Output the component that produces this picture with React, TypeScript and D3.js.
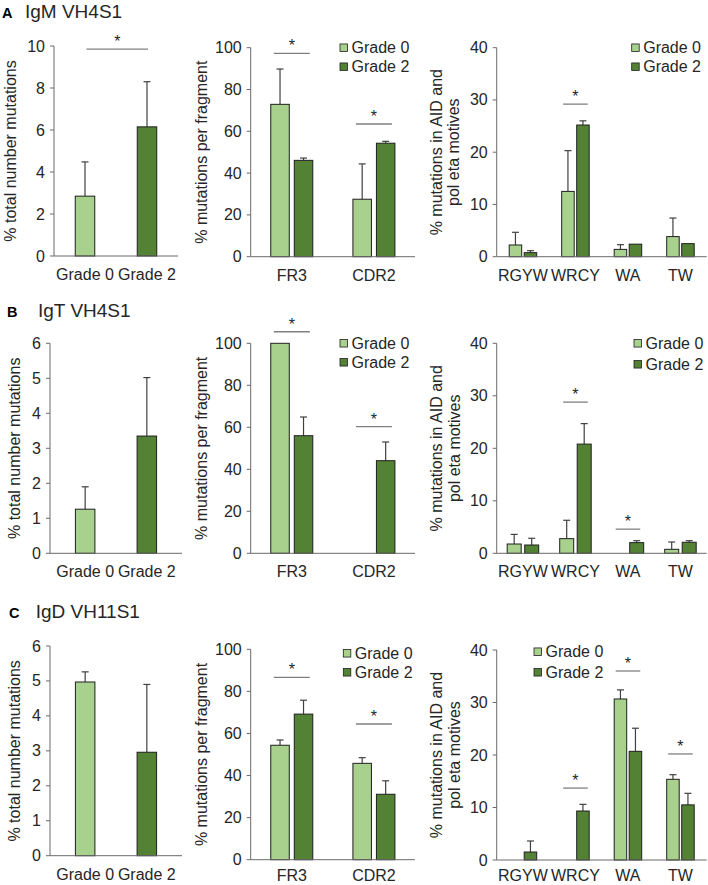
import React from "react";
import * as d3 from "d3";

// ---------- categories & ticks ----------
const GRADES = ["Grade 0", "Grade 2"];
const TOTAL_CATS = ["Grade 0", "Grade 2"];
const FRAG_CATS = ["FR3", "CDR2"];
const MOTIF_CATS = ["RGYW", "WRCY", "WA", "TW"];

const TOTAL_TICKS_A = [0, 2, 4, 6, 8, 10];
const TOTAL_TICKS_BC = [0, 1, 2, 3, 4, 5, 6];
const FRAG_TICKS = [0, 20, 40, 60, 80, 100];
const MOTIF_TICKS = [0, 10, 20, 30, 40];

// ---------- A: IgM VH4S1 ----------
const IGM_TOTAL = [2.85, 6.15];
const IGM_TOTAL_SD = [1.63, 2.15];
const IGM_TOTAL_SIG = [{ from: "Grade 0", to: "Grade 2", level: 9.85 }];
const IGM_FRAG_G0 = [72.9, 27.5];
const IGM_FRAG_G0_SD = [16.9, 16.9];
const IGM_FRAG_G2 = [46.1, 54.3];
const IGM_FRAG_G2_SD = [1.1, 0.9];
const IGM_FRAG_SIG = [{ cat: "FR3", level: 97.3 }, { cat: "CDR2", level: 63.5 }];
const IGM_MOTIF_G0 = [2.24, 12.5, 1.4, 3.85];
const IGM_MOTIF_G0_SD = [2.43, 7.8, 0.9, 3.55];
const IGM_MOTIF_G2 = [0.77, 25.2, 2.4, 2.5];
const IGM_MOTIF_G2_SD = [0.38, 0.8, 0, 0];
const IGM_MOTIF_SIG = [{ cat: "WRCY", level: 29.2 }];

// ---------- B: IgT VH4S1 ----------
const IGT_TOTAL = [1.26, 3.35];
const IGT_TOTAL_SD = [0.64, 1.67];
const IGT_TOTAL_SIG: { from: string; to: string; level: number }[] = [];
const IGT_FRAG_G0 = [100, 0];
const IGT_FRAG_G0_SD = [0, 0];
const IGT_FRAG_G2 = [56, 44.1];
const IGT_FRAG_G2_SD = [8.9, 8.9];
const IGT_FRAG_SIG = [{ cat: "FR3", level: 105.5 }, { cat: "CDR2", level: 60.3 }];
const IGT_MOTIF_G0 = [1.77, 2.79, 0, 0.76];
const IGT_MOTIF_G0_SD = [1.83, 3.5, 0, 1.39];
const IGT_MOTIF_G2 = [1.58, 20.8, 2.03, 2.1];
const IGT_MOTIF_G2_SD = [1.28, 3.9, 0.37, 0.3];
const IGT_MOTIF_SIG = [{ cat: "WRCY", level: 28.8 }, { cat: "WA", level: 4.6 }];

// ---------- C: IgD VH11S1 ----------
const IGD_TOTAL = [4.97, 2.96];
const IGD_TOTAL_SD = [0.29, 1.94];
const IGD_TOTAL_SIG: { from: string; to: string; level: number }[] = [];
const IGD_FRAG_G0 = [54.4, 45.8];
const IGD_FRAG_G0_SD = [2.5, 2.7];
const IGD_FRAG_G2 = [69.2, 31.1];
const IGD_FRAG_G2_SD = [6.6, 6.4];
const IGD_FRAG_SIG = [{ cat: "FR3", level: 86.7 }, { cat: "CDR2", level: 64.5 }];
const IGD_MOTIF_G0 = [0, 0, 30.67, 15.37];
const IGD_MOTIF_G0_SD = [0, 0, 1.73, 0.88];
const IGD_MOTIF_G2 = [1.52, 9.33, 20.7, 10.5];
const IGD_MOTIF_G2_SD = [2.1, 1.27, 4.4, 2.2];
const IGD_MOTIF_SIG = [{ cat: "WRCY", level: 13.7 }, { cat: "WA", level: 36 }, { cat: "TW", level: 20.2 }];

// ---------- styles ----------
const FONT = "'Liberation Sans', Arial, Helvetica, sans-serif";
const LIGHT = "#a9d18e";
const DARK = "#548235";
const TEXT = "#262626";
const AXIS = "#6a6a6a";
const OUTLINE = "#1e1e1e";
const ERR = "#404040";
const SIGC = "#808080";
const FS = 16;

function YAxis({ x, y, ticks, x1 }: any) {
  return (
    <g>
      <line x1={x} x2={x} y1={y(ticks[ticks.length - 1])} y2={y(0)} stroke={AXIS} strokeWidth={1} />
      <line x1={x} x2={x1} y1={y(0)} y2={y(0)} stroke={AXIS} strokeWidth={1} />
      {ticks.map((t: number) => (
        <g key={t}>
          <line x1={x - 4} x2={x} y1={y(t)} y2={y(t)} stroke={AXIS} strokeWidth={1} />
          <text x={x - 9} y={y(t)} textAnchor="end" dominantBaseline="central" fontSize={FS} fill={TEXT} fontFamily={FONT}>
            {t}
          </text>
        </g>
      ))}
    </g>
  );
}

function ErrBar({ cx, yTop, yVal }: any) {
  if (Math.abs(yTop - yVal) < 0.5) return null;
  return (
    <g stroke={ERR} strokeWidth={1.2}>
      <line x1={cx} x2={cx} y1={yVal} y2={yTop} />
      <line x1={cx - 3.5} x2={cx + 3.5} y1={yTop} y2={yTop} />
    </g>
  );
}

function Sig({ x1, x2, y }: any) {
  return (
    <g>
      <line x1={x1} x2={x2} y1={y} y2={y} stroke={SIGC} strokeWidth={1.3} />
      <text x={(x1 + x2) / 2} y={y - 2} textAnchor="middle" fontSize={FS} fill={TEXT} fontFamily={FONT}>
        *
      </text>
    </g>
  );
}

function YLabel({ x, yMid, text }: any) {
  return (
    <text transform={`translate(${x},${yMid}) rotate(-90)`} textAnchor="middle" dominantBaseline="central" fontSize={FS} fill={TEXT} fontFamily={FONT}>
      {text}
    </text>
  );
}

function TotalPanel({ ax, axEnd, yTop, yZero, max, ticks, values, sd, sig, labelX, pad, labelDy }: any) {
  const y = d3.scaleLinear().domain([0, max]).range([yZero, yTop]);
  const x = d3.scalePoint<string>().domain(TOTAL_CATS).range([ax, axEnd]).padding(pad);
  const bw = 19.5;
  return (
    <g>
      <YLabel x={labelX} yMid={(yTop + yZero) / 2} text="% total number mutations" />
      {TOTAL_CATS.map((c, i) => {
        const cx = x(c)!;
        return (
          <g key={c}>
            <ErrBar cx={cx} yVal={y(values[i])} yTop={y(values[i] + sd[i])} />
            <rect x={cx - bw / 2} y={y(values[i])} width={bw} height={yZero - y(values[i])} fill={i === 0 ? LIGHT : DARK} stroke={OUTLINE} strokeWidth={1} />
            <text x={cx} y={yZero + labelDy} textAnchor="middle" fontSize={FS} fill={TEXT} fontFamily={FONT}>
              {c}
            </text>
          </g>
        );
      })}
      <YAxis x={ax} y={y} ticks={ticks} x1={axEnd} />
      {sig.map((s: any, i: number) => (
        <Sig key={i} x1={x(s.from)! + 1.5} x2={x(s.to)! + 1} y={y(s.level)} />
      ))}
    </g>
  );
}

function GroupPanel({ ax, axEnd, yTop, yZero, max, ticks, cats, g0, g0sd, g2, g2sd, sig, sigHalf, bw, gap, legend, ylabel, labelXs, labelDy }: any) {
  const y = d3.scaleLinear().domain([0, max]).range([yZero, yTop]);
  const x = d3.scaleBand<string>().domain(cats).range([ax, axEnd]).padding(0);
  const center = (c: string) => x(c)! + x.bandwidth() / 2;
  const series = [
    { vals: g0, sd: g0sd, color: LIGHT, off: -(gap / 2 + bw / 2) },
    { vals: g2, sd: g2sd, color: DARK, off: gap / 2 + bw / 2 },
  ];
  return (
    <g>
      {ylabel.map((l: string, i: number) => (
        <YLabel key={i} x={labelXs[i]} yMid={(yTop + yZero) / 2} text={l} />
      ))}
      {cats.map((c: string, i: number) => (
        <g key={c}>
          {series.map((s, k) => {
            const cx = center(c) + s.off;
            const v = s.vals[i];
            return (
              <g key={k}>
                <ErrBar cx={cx} yVal={y(v)} yTop={y(v + s.sd[i])} />
                <rect x={cx - bw / 2} y={y(v)} width={bw} height={Math.max(0, yZero - y(v))} fill={s.color} stroke={OUTLINE} strokeWidth={1} />
              </g>
            );
          })}
          <text x={center(c)} y={yZero + labelDy} textAnchor="middle" fontSize={FS} fill={TEXT} fontFamily={FONT}>
            {c}
          </text>
        </g>
      ))}
      <YAxis x={ax} y={y} ticks={ticks} x1={axEnd} />
      {sig.map((s: any, i: number) => (
        <Sig key={i} x1={center(s.cat) - sigHalf} x2={center(s.cat) + sigHalf} y={y(s.level)} />
      ))}
      {GRADES.map((g, i) => (
        <g key={g}>
          <rect x={legend.x} y={legend.y + i * legend.dy - 3.75} width={7.5} height={7.5} fill={i === 0 ? LIGHT : DARK} stroke={OUTLINE} strokeWidth={0.8} />
          <text x={legend.x + 11.5} y={legend.y + i * legend.dy} dominantBaseline="central" fontSize={FS} fill={TEXT} fontFamily={FONT}>
            {g}
          </text>
        </g>
      ))}
    </g>
  );
}

function Title({ letter, name, x1, x2, y }: any) {
  return (
    <g fontFamily={FONT} fill={TEXT}>
      <text x={x1} y={y} fontSize={14.5} fontWeight="bold" fill="#000">
        {letter}
      </text>
      <text x={x2} y={y} fontSize={19}>
        {name}
      </text>
    </g>
  );
}

const FRAG_LABEL = ["% mutations per fragment"];
const MOTIF_LABEL = ["% mutations in AID and", "pol eta motives"];

export default function App() {
  return (
    <svg width={708} height={885} style={{ position: "absolute", left: 0, top: 0, background: "#fff" }}>
      <rect width={708} height={885} fill="#fff" />
      {/* Row A */}
      <Title letter="A" name="IgM VH4S1" x1={2} x2={25} y={18} />
      <TotalPanel ax={54} axEnd={178} yTop={46} yZero={256} max={10} ticks={TOTAL_TICKS_A} values={IGM_TOTAL} sd={IGM_TOTAL_SD} sig={IGM_TOTAL_SIG} labelX={10} pad={0.5} labelDy={24} />
      <GroupPanel ax={250.7} axEnd={415} yTop={47.7} yZero={256.7} max={100} ticks={FRAG_TICKS} cats={FRAG_CATS}
        g0={IGM_FRAG_G0} g0sd={IGM_FRAG_G0_SD} g2={IGM_FRAG_G2} g2sd={IGM_FRAG_G2_SD} sig={IGM_FRAG_SIG} sigHalf={18}
        bw={18.5} gap={5} legend={{ x: 340, y: 47.7, dy: 19 }} ylabel={FRAG_LABEL} labelXs={[201]} labelDy={24} />
      <GroupPanel ax={496.7} axEnd={706.7} yTop={47.7} yZero={256.7} max={40} ticks={MOTIF_TICKS} cats={MOTIF_CATS}
        g0={IGM_MOTIF_G0} g0sd={IGM_MOTIF_G0_SD} g2={IGM_MOTIF_G2} g2sd={IGM_MOTIF_G2_SD} sig={IGM_MOTIF_SIG} sigHalf={12.3}
        bw={12.5} gap={2.5} legend={{ x: 631.7, y: 47.7, dy: 19 }} ylabel={MOTIF_LABEL} labelXs={[436.7, 453]} labelDy={24} />

      {/* Row B */}
      <Title letter="B" name="IgT VH4S1" x1={7} x2={38} y={316.5} />
      <TotalPanel ax={50} axEnd={182} yTop={343.3} yZero={553.3} max={6} ticks={TOTAL_TICKS_BC} values={IGT_TOTAL} sd={IGT_TOTAL_SD} sig={IGT_TOTAL_SIG} labelX={14.5} pad={0.57} labelDy={24} />
      <GroupPanel ax={250.7} axEnd={415} yTop={343.3} yZero={553.3} max={100} ticks={FRAG_TICKS} cats={FRAG_CATS}
        g0={IGT_FRAG_G0} g0sd={IGT_FRAG_G0_SD} g2={IGT_FRAG_G2} g2sd={IGT_FRAG_G2_SD} sig={IGT_FRAG_SIG} sigHalf={18}
        bw={18.5} gap={5} legend={{ x: 340, y: 343.3, dy: 19 }} ylabel={FRAG_LABEL} labelXs={[201.7]} labelDy={24} />
      <GroupPanel ax={496.7} axEnd={706.7} yTop={343.3} yZero={553.3} max={40} ticks={MOTIF_TICKS} cats={MOTIF_CATS}
        g0={IGT_MOTIF_G0} g0sd={IGT_MOTIF_G0_SD} g2={IGT_MOTIF_G2} g2sd={IGT_MOTIF_G2_SD} sig={IGT_MOTIF_SIG} sigHalf={12.3}
        bw={14} gap={3.5} legend={{ x: 634, y: 343.3, dy: 21 }} ylabel={MOTIF_LABEL} labelXs={[436.7, 454]} labelDy={24} />

      {/* Row C */}
      <Title letter="C" name="IgD VH11S1" x1={9} x2={35.7} y={618} />
      <TotalPanel ax={50} axEnd={182} yTop={646} yZero={855.7} max={6} ticks={TOTAL_TICKS_BC} values={IGD_TOTAL} sd={IGD_TOTAL_SD} sig={IGD_TOTAL_SIG} labelX={14.5} pad={0.57} labelDy={24} />
      <GroupPanel ax={250.7} axEnd={415} yTop={649.3} yZero={859.7} max={100} ticks={FRAG_TICKS} cats={FRAG_CATS}
        g0={IGD_FRAG_G0} g0sd={IGD_FRAG_G0_SD} g2={IGD_FRAG_G2} g2sd={IGD_FRAG_G2_SD} sig={IGD_FRAG_SIG} sigHalf={18}
        bw={18.5} gap={5} legend={{ x: 343.3, y: 653.3, dy: 19 }} ylabel={FRAG_LABEL} labelXs={[201.7]} labelDy={21} />
      <GroupPanel ax={496.7} axEnd={706.7} yTop={650} yZero={860} max={40} ticks={MOTIF_TICKS} cats={MOTIF_CATS}
        g0={IGD_MOTIF_G0} g0sd={IGD_MOTIF_G0_SD} g2={IGD_MOTIF_G2} g2sd={IGD_MOTIF_G2_SD} sig={IGD_MOTIF_SIG} sigHalf={12.3}
        bw={12.5} gap={2.5} legend={{ x: 534, y: 651.7, dy: 20.6 }} ylabel={MOTIF_LABEL} labelXs={[436.7, 454]} labelDy={21} />
    </svg>
  );
}
